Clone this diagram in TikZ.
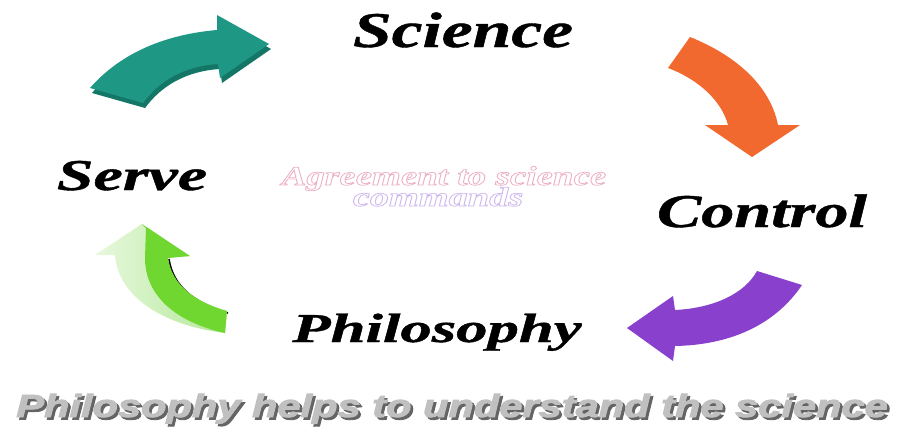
\documentclass[tikz,border=0pt]{standalone}
\usepackage{fontspec}
\usepackage{graphicx}
\newfontfamily\bottomfont{Liberation Sans}[FakeBold=2.5]
\newfontfamily\wordfont{Liberation Serif}[FakeBold=0.8]
\newfontfamily\agreefont{Liberation Serif}
\newcommand\olon{\special{pdf:code 1 Tr 0.7 w}}
\newcommand\oloff{\special{pdf:code 0 Tr}}
\definecolor{teal1}{RGB}{30,152,132}
\definecolor{teal2}{RGB}{20,118,102}
\definecolor{orange1}{RGB}{242,105,48}
\definecolor{purple1}{RGB}{137,64,204}
\definecolor{green1}{RGB}{112,214,48}
\definecolor{greenL}{RGB}{232,248,222}
\definecolor{greenM}{RGB}{178,232,150}
\definecolor{pinkline}{RGB}{236,176,196}
\definecolor{lavline}{RGB}{206,186,236}
\definecolor{graytext}{RGB}{192,192,192}
\definecolor{grayshadow}{RGB}{100,100,100}
\tikzset{
  bigword/.style={font=\wordfont\bfseries\itshape, text=black, inner sep=0pt, anchor=base},
}
\begin{document}
\begin{tikzpicture}[x=1pt,y=-1pt]
\useasboundingbox (0,0) rectangle (905,426);
\fill[white] (0,0) rectangle (905,426);

% teal arrow (3D)
\fill[teal2, shift={(2,5)}] (90,88) .. controls (118,56) and (160,35) .. (217,30) -- (217,15) -- (269,44) -- (220,78) -- (218,64) .. controls (185,66) and (160,80) .. (143,103) -- cycle;
\fill[teal1] (90,88) .. controls (118,56) and (160,35) .. (217,30) -- (217,15) -- (269,44) -- (220,78) -- (218,64) .. controls (185,66) and (160,80) .. (143,103) -- cycle;

% orange arrow
\fill[orange1] (690,37) .. controls (735,55) and (770,85) .. (778,125) -- (800,125) -- (752,157) -- (705,125) -- (728,125) .. controls (722,102) and (700,80) .. (668,68) -- cycle;

% purple arrow
\fill[purple1] (757,271) -- (802,285) .. controls (775,325) and (730,345) .. (675,346) -- (673,361) -- (627,328) -- (673,296) -- (675,310) .. controls (715,308) and (745,293) .. (757,271) -- cycle;

% green arrow
\shade[left color=greenL, right color=greenM] (142,224) -- (95,255) -- (115,255) .. controls (118,295) and (160,325) .. (225,333) -- (227,311) .. controls (195,302) and (172,285) .. (168,258) -- (190,256) -- cycle;
\draw[black, line width=1.6pt] (169,259) .. controls (173,287) and (196,304) .. (228,313);
\fill[green1] (142,224) -- (190,256) -- (168,258) .. controls (172,285) and (195,302) .. (227,311) -- (225,333) .. controls (175,322) and (145,295) .. (145,258) -- (146,228) -- cycle;

% words
\node[bigword] (science) at (463,47) {\fontsize{50}{50}\selectfont\scalebox{1.39}[1]{Science}};
\node[bigword] (control) at (762,227) {\fontsize{47}{47}\selectfont\scalebox{1.41}[1]{Control}};
\node[bigword] (serve) at (132,190) {\fontsize{44}{44}\selectfont\scalebox{1.5}[1]{Serve}};
\node[bigword] (philo) at (437,342) {\fontsize{41}{41}\selectfont\scalebox{1.53}[1]{Philosophy}};

% center outline text
\node[font=\agreefont\bfseries\itshape\fontsize{27}{27}\selectfont, text=pinkline, inner sep=0pt, anchor=base] (agree) at (444,185) {\olon\scalebox{1.37}[1]{Agreement to science}\oloff};
\node[font=\agreefont\bfseries\itshape\fontsize{27}{27}\selectfont, text=lavline, inner sep=0pt, anchor=base] (cmd) at (438,206) {\olon\scalebox{1.42}[1]{commands}\oloff};

% bottom text with shadow
\node[font=\bottomfont\fontsize{32}{32}\selectfont\bfseries\itshape, inner sep=0pt, anchor=base] (bot) at (452,417) {\scalebox{1.30}[1]{\makebox[0pt][l]{\hspace{2pt}\raisebox{-2.5pt}{\color{grayshadow}Philosophy helps to understand the science}}\color{graytext}Philosophy helps to understand the science}};
\end{tikzpicture}
\end{document}
